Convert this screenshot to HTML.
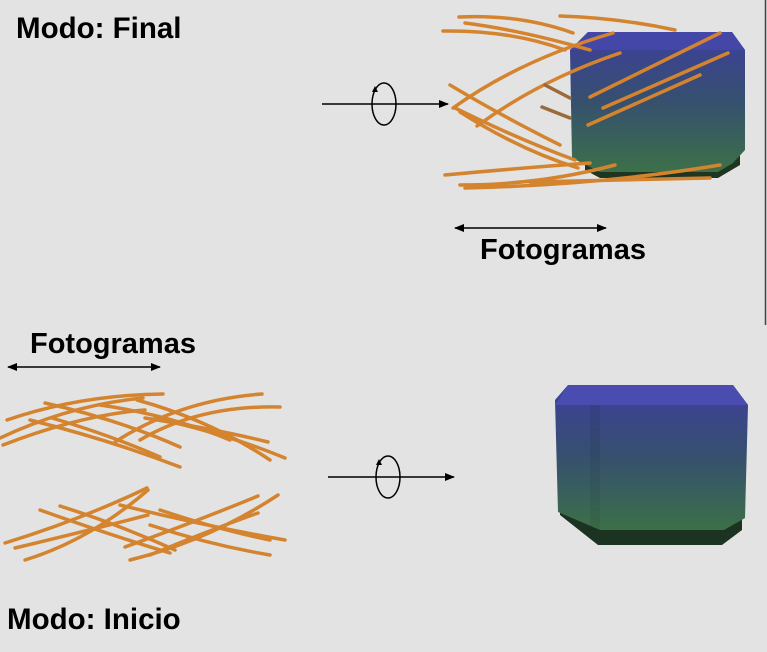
<!DOCTYPE html>
<html><head><style>
html,body{margin:0;padding:0;background:#e3e3e3;}
svg{display:block;}
text{font-family:"Liberation Sans",sans-serif;font-weight:bold;fill:#000;}
</style></head><body>
<svg width="767" height="652" viewBox="0 0 767 652" xmlns="http://www.w3.org/2000/svg">
<defs>
<linearGradient id="cg" x1="0" y1="0" x2="0" y2="1">
<stop offset="0" stop-color="#3d3f9c"/><stop offset="0.5" stop-color="#36506e"/><stop offset="1" stop-color="#3c7048"/>
</linearGradient>
<marker id="ah" markerWidth="10" markerHeight="8" refX="9" refY="4" orient="auto" markerUnits="userSpaceOnUse"><path d="M0,0 L10,4 L0,8z" fill="#000"/></marker>
<marker id="ah2" markerWidth="10" markerHeight="8" refX="9" refY="4" orient="auto-start-reverse" markerUnits="userSpaceOnUse"><path d="M0,0 L10,4 L0,8z" fill="#000"/></marker>
</defs>
<rect width="767" height="652" fill="#e3e3e3"/>
<line x1="765.5" y1="0" x2="765.5" y2="325" stroke="#444" stroke-width="1.5"/>

<text x="16" y="38" font-size="29.5">Modo: Final</text>
<text x="7" y="629" font-size="29.5">Modo: Inicio</text>
<text x="480" y="259" font-size="29">Fotogramas</text>
<text x="30" y="353" font-size="29">Fotogramas</text>

<line x1="455" y1="228" x2="606" y2="228" stroke="#000" stroke-width="1.5" marker-start="url(#ah2)" marker-end="url(#ah)"/>
<line x1="8" y1="367" x2="160" y2="367" stroke="#000" stroke-width="1.5" marker-start="url(#ah2)" marker-end="url(#ah)"/>

<line x1="322" y1="104" x2="448" y2="104" stroke="#000" stroke-width="1.5" marker-end="url(#ah)"/>
<ellipse cx="384" cy="104" rx="12" ry="21" fill="none" stroke="#000" stroke-width="1.5"/>
<path d="M372,92 l3,-6 l3,6z" fill="#000"/>
<line x1="328" y1="477" x2="454" y2="477" stroke="#000" stroke-width="1.5" marker-end="url(#ah)"/>
<ellipse cx="388" cy="477" rx="12" ry="21" fill="none" stroke="#000" stroke-width="1.5"/>
<path d="M376,465 l3,-6 l3,6z" fill="#000"/>

<g>
<path d="M585,170 L600,178 L718,178 L740,165 L740,150 L585,150z" fill="#1e3522"/>
<path d="M588,32 L732,32 L745,50 L745,150 L733,163 L718,172 L600,172 L572,158 L570,50z" fill="url(#cg)"/>
<path d="M588,32 L732,32 L745,50 L570,50z" fill="#4446a8"/>
</g>
<g>
<path d="M560,515 L598,545 L722,545 L742,530 L742,510 L560,505z" fill="#1b3320"/>
<path d="M568,385 L733,385 L748,405 L745,518 L724,530 L600,530 L558,512 L555,400z" fill="url(#cg)"/>
<path d="M568,385 L733,385 L748,405 L555,405z" fill="#4a4cb0"/>
<path d="M590,405 L590,530 L600,530 L600,405z" fill="#000" opacity="0.06"/>
</g>

<g fill="none" stroke="#d4842f" stroke-width="3.5" stroke-linecap="round">
<path d="M459,17 Q520,14 573,33"/>
<path d="M560,16 Q620,18 675,30"/>
<path d="M443,31 Q510,30 565,50"/>
<path d="M465,23 Q520,30 590,50"/>
<path d="M453,108 Q520,60 613,33"/>
<path d="M477,126 Q540,80 620,53"/>
<path d="M450,85 Q500,115 560,145"/>
<path d="M455,108 Q520,140 575,160"/>
<path d="M460,112 Q520,150 578,168"/>
<path d="M590,97 L720,33"/>
<path d="M603,108 L728,53"/>
<path d="M588,125 L700,75"/>
<path d="M445,175 Q520,168 590,163"/>
<path d="M460,185 Q540,185 615,165"/>
<path d="M465,188 Q600,185 720,165"/>
<path d="M530,182 Q620,180 710,178"/>
<path d="M545,85 L570,98" stroke="#9a6a3a"/>
<path d="M542,107 L570,118" stroke="#9a6a3a"/>
<path d="M7,420 Q80,395 163,394"/>
<path d="M0,438 Q70,405 143,398"/>
<path d="M3,445 Q80,415 145,410"/>
<path d="M45,403 Q120,420 180,447"/>
<path d="M30,420 Q110,440 180,467"/>
<path d="M52,418 Q110,435 160,457"/>
<path d="M115,442 Q180,400 262,394"/>
<path d="M140,440 Q200,405 280,407"/>
<path d="M137,400 Q210,420 270,460"/>
<path d="M145,418 Q220,430 268,442"/>
<path d="M155,418 Q230,435 285,458"/>
<path d="M100,405 Q170,415 230,440"/>
<path d="M5,543 Q80,520 147,488"/>
<path d="M15,548 Q90,530 148,515"/>
<path d="M25,560 Q90,540 148,490"/>
<path d="M40,510 Q110,535 170,553"/>
<path d="M60,506 Q120,525 175,550"/>
<path d="M120,505 Q200,525 285,540"/>
<path d="M125,547 Q200,520 258,496"/>
<path d="M130,560 Q210,540 278,495"/>
<path d="M150,525 Q210,545 270,555"/>
<path d="M150,555 Q210,530 258,513"/>
<path d="M160,510 Q220,530 270,540"/>
</g>
</svg>
</body></html>
